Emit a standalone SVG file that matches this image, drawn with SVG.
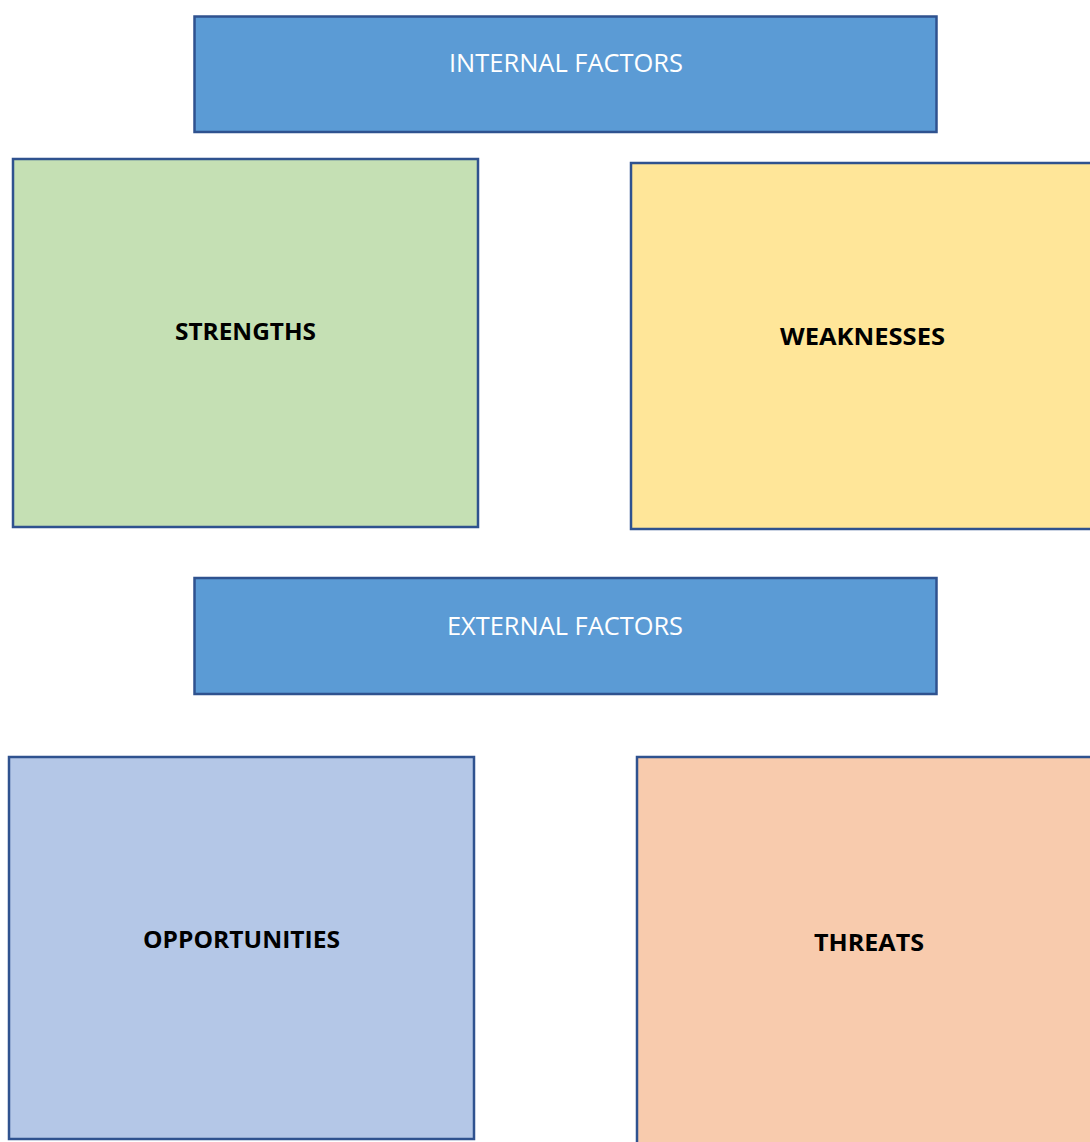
<svg xmlns="http://www.w3.org/2000/svg" width="1090" height="1142" viewBox="0 0 1090 1142">
<style>
.box{stroke:#2F528F;stroke-width:2.5}
.hdr{fill:#5B9BD5}
.ht{font-family:"Open Sans","Liberation Sans",sans-serif;font-size:25px;fill:#ffffff;text-anchor:middle}
.bt{font-family:"Open Sans","Liberation Sans",sans-serif;font-size:23px;font-weight:bold;fill:#000000;text-anchor:middle}
</style>
<rect width="1090" height="1142" fill="#ffffff"/>
<g id="internal">
<rect class="box hdr" x="194.5" y="16.5" width="742" height="115.5"/>
<text class="ht" x="566" y="72" textLength="234" lengthAdjust="spacingAndGlyphs">INTERNAL FACTORS</text>
</g>
<g id="strengths">
<rect class="box" fill="#C5E0B4" x="13" y="159" width="465" height="368"/>
<text class="bt" x="245.5" y="340" textLength="141" lengthAdjust="spacingAndGlyphs">STRENGTHS</text>
</g>
<g id="weaknesses">
<rect class="box" fill="#FFE699" x="631" y="163" width="470" height="366"/>
<text class="bt" x="862.5" y="345" textLength="165" lengthAdjust="spacingAndGlyphs">WEAKNESSES</text>
</g>
<g id="external">
<rect class="box hdr" x="194.5" y="578" width="742" height="116"/>
<text class="ht" x="565" y="635" textLength="236" lengthAdjust="spacingAndGlyphs">EXTERNAL FACTORS</text>
</g>
<g id="opportunities">
<rect class="box" fill="#B4C7E7" x="9" y="757" width="465" height="382"/>
<text class="bt" x="241.5" y="948" textLength="197" lengthAdjust="spacingAndGlyphs">OPPORTUNITIES</text>
</g>
<g id="threats">
<rect class="box" fill="#F8CBAD" x="637" y="757" width="460" height="400"/>
<text class="bt" x="869" y="951" textLength="110" lengthAdjust="spacingAndGlyphs">THREATS</text>
</g>
<g id="connectors"></g>
</svg>
